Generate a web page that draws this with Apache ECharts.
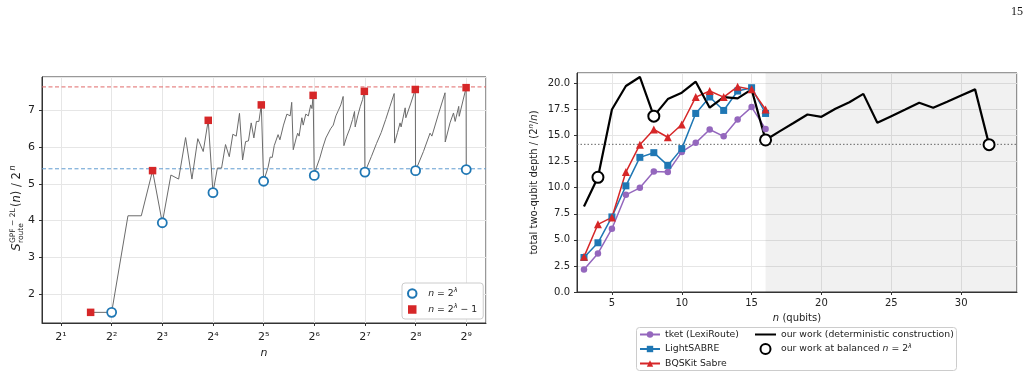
<!DOCTYPE html>
<html>
<head>
<meta charset="utf-8">
<script src="https://cdn.jsdelivr.net/npm/echarts@6/dist/echarts.min.js"></script>
<style>
html, body { margin: 0; padding: 0; background: #fff; }
#chart { width: 1029px; height: 378px; }
</style>
</head>
<body>
<div id="chart"></div>
<script>
// ---- left panel: S_route^{GPF-2L}(n) / 2^n on a log2 n axis ----
const gpfN = [3, 4, 5, 6, 7, 8, 9, 10, 11, 12, 13, 14, 15, 16, 17, 18, 19, 20, 21, 22, 23, 24, 25, 26, 27, 28, 29, 30, 31,
  32, 34, 35, 36, 37, 38, 39, 40, 42, 43, 44, 46, 47, 48, 50, 51, 52, 54, 55, 57, 59, 61, 62, 63,
  64, 66, 69, 72, 75, 77, 80, 83, 86, 89, 92, 95, 96, 100, 104, 108, 111, 112, 116, 120, 124, 127,
  128, 140, 150, 160, 170, 180, 191, 192, 200, 207, 210, 222, 224, 240, 255,
  256, 285, 312, 320, 350, 383, 384, 410, 430, 440, 462, 465, 511, 512];
const gpfVal = [1.50, 1.50, 4.13, 4.13, 5.36, 3.94, 5.24, 5.13, 6.26, 5.13, 6.23, 5.88, 6.73, 4.76, 5.43, 5.43, 6.07, 5.74, 6.35, 6.30, 6.92, 5.65, 6.15, 6.17, 6.66, 6.25, 6.70, 6.70, 7.15,
  5.07, 5.45, 5.73, 5.72, 6.04, 6.00, 6.34, 6.20, 6.60, 6.55, 6.90, 6.85, 7.22, 5.93, 6.25, 6.38, 6.30, 6.80, 6.60, 6.90, 6.85, 7.15, 7.05, 7.41,
  5.23, 5.45, 5.70, 6.00, 6.25, 6.20, 6.50, 6.60, 6.85, 7.00, 7.15, 7.38, 6.04, 6.30, 6.50, 6.75, 6.97, 6.55, 6.85, 7.10, 7.30, 7.52,
  5.32, 5.75, 6.10, 6.40, 6.75, 7.10, 7.46, 6.11, 6.40, 6.66, 6.55, 7.07, 6.80, 7.20, 7.57,
  5.36, 5.88, 6.38, 6.30, 6.90, 7.48, 6.14, 6.66, 6.93, 6.70, 7.11, 6.84, 7.62, 5.39];
const powN = [4, 8, 16, 32, 64, 128, 256, 512];
const powVal = [1.50, 3.94, 4.76, 5.07, 5.23, 5.32, 5.36, 5.39];
const powM1N = [3, 7, 15, 31, 63, 127, 255, 511];
const powM1Val = [1.50, 5.36, 6.73, 7.15, 7.41, 7.52, 7.57, 7.62];
const upperLimit = 7.64;
const lowerLimit = 5.41;
const log2TickLabels = ['2¹', '2²', '2³', '2⁴', '2⁵', '2⁶', '2⁷', '2⁸', '2⁹'];

// ---- right panel: total two-qubit depth / (2^n / n) ----
const qubits = [3, 4, 5, 6, 7, 8, 9, 10, 11, 12, 13, 14, 15, 16];
const tket = [2.16, 3.70, 6.07, 9.32, 9.99, 11.56, 11.50, 13.43, 14.30, 15.58, 14.93, 16.54, 17.73, 15.64];
const lightSabre = [3.31, 4.72, 7.20, 10.18, 12.91, 13.36, 12.14, 13.75, 17.12, 18.70, 17.41, 19.27, 19.59, 17.12];
const bqskit = [3.37, 6.49, 7.15, 11.50, 14.13, 15.58, 14.84, 16.06, 18.69, 19.27, 18.69, 19.69, 19.43, 17.50];
const oursN = [3, 4, 5, 6, 7, 8, 9, 10, 11, 12, 13, 14, 15, 16, 17, 18, 19, 20, 21, 22, 23, 24, 25, 26, 27, 28, 29, 30, 31, 32];
const ours = [8.19, 11.00, 17.50, 19.75, 20.62, 16.86, 18.50, 19.11, 20.17, 17.67, 18.69, 18.56, 19.43, 14.58,
  15.40, 16.20, 17.02, 16.80, 17.57, 18.20, 19.00, 16.22, 16.86, 17.50, 18.15, 17.66, 18.24, 18.85, 19.43, 14.13];
const oursBalancedN = [4, 8, 16, 32];
const oursBalanced = [11.00, 16.86, 14.58, 14.13];
const depthLimit = 14.16;
const shadeFrom = 16;

const FONT = 'DejaVu Sans';
const pair = (xs, ys) => xs.map((x, i) => [x, ys[i]]);
const chart = echarts.init(document.getElementById('chart'));

// axis ranges
const leftXMin = Math.pow(2, 0.625), leftXMax = Math.pow(2, 9.39);
const rightXMin = 2.5, rightXMax = 34;

const supRich = {
  i: { fontStyle: 'italic', fontSize: 9.3, fontFamily: FONT, lineHeight: 13 },
  s: { fontStyle: 'italic', fontSize: 6.5, fontFamily: FONT, verticalAlign: 'top', lineHeight: 4 }
};
const legendLabels = {
  pow: '{i|n} = 2{s|λ}',
  powm1: '{i|n} = 2{s|λ} − 1',
  oursBal: 'our work at balanced {i|n} = 2{s|λ}'
};

const axisCommon = {
  axisLine: { show: true, lineStyle: { color: '#333', width: 1 } },
  axisTick: { show: true, length: 3, lineStyle: { color: '#333' } },
  splitLine: { show: true, lineStyle: { color: '#e6e6e6', width: 1 } },
  axisLabel: { color: '#222', fontSize: 10, fontFamily: FONT, showMinLabel: false, showMaxLabel: false }
};

// horizontal reference line spanning a whole panel
const hLine = (axisIdx, x0, x1, value, color, dash) => ({
  type: 'line', xAxisIndex: axisIdx, yAxisIndex: axisIdx, silent: true, symbol: 'none', z: 2,
  data: [[x0, value], [x1, value]],
  lineStyle: { color: color, type: dash, width: 1 }
});

const option = {
  animation: false,
  backgroundColor: '#fff',
  textStyle: { fontFamily: FONT },
  grid: [
    { left: 42, top: 77, width: 444, height: 246, show: true, borderColor: '#333', borderWidth: 1, outerBoundsMode: 'none' },
    { left: 577, top: 73, width: 440, height: 219, show: true, borderColor: '#333', borderWidth: 1, outerBoundsMode: 'none' }
  ],
  xAxis: [
    {
      gridIndex: 0, type: 'log', logBase: 2, min: leftXMin, max: leftXMax, splitNumber: 9,
      ...axisCommon,
      axisLabel: {
        ...axisCommon.axisLabel, margin: 9, fontSize: 11,
        formatter: v => {
          const k = Math.round(Math.log2(v));
          return Math.abs(Math.log2(v) - k) < 1e-6 && k >= 1 ? log2TickLabels[k - 1] : '';
        }
      },
      name: 'n', nameLocation: 'middle', nameGap: 24,
      nameTextStyle: { fontStyle: 'italic', fontSize: 11, color: '#222' }
    },
    {
      gridIndex: 1, type: 'value', min: rightXMin, max: rightXMax,
      ...axisCommon,
      axisLabel: { ...axisCommon.axisLabel, margin: 6 },
      name: '{i|n} (qubits)', nameLocation: 'middle', nameGap: 21,
      nameTextStyle: { fontSize: 10, color: '#222', rich: { i: { fontStyle: 'italic', fontSize: 10 } } }
    }
  ],
  yAxis: [
    {
      gridIndex: 0, type: 'value', min: 1.21, max: 7.91,
      ...axisCommon,
      axisLabel: { ...axisCommon.axisLabel, margin: 7, fontSize: 11 }
    },
    {
      gridIndex: 1, type: 'value', min: 0, max: 21, interval: 2.5,
      ...axisCommon,
      axisLabel: { ...axisCommon.axisLabel, margin: 7, showMinLabel: true, formatter: v => v.toFixed(1) },
      name: 'total two-qubit depth / (2{s|n}/{i|n})', nameLocation: 'middle', nameRotate: 90, nameGap: 36,
      nameTextStyle: {
        fontSize: 10, color: '#222',
        rich: {
          i: { fontStyle: 'italic', fontSize: 10, lineHeight: 13 },
          s: { fontStyle: 'italic', fontSize: 7, verticalAlign: 'top', lineHeight: 4 }
        }
      }
    }
  ],
  legend: [
    {
      data: ['pow', { name: 'powm1', icon: 'path://M0,0H10V10H0Z' }], orient: 'vertical', left: 402, top: 283,
      padding: [4, 6, 3, 5], itemGap: 3, itemWidth: 16, itemHeight: 8.5,
      backgroundColor: '#fff', borderColor: '#ccc', borderWidth: 1, borderRadius: 3,
      formatter: n => legendLabels[n],
      textStyle: { fontSize: 9.3, color: '#222', lineHeight: 13, padding: [0, 0, 0, 3], rich: supRich }
    },
    {
      data: ['tket (LexiRoute)', 'LightSABRE', 'BQSKit Sabre'], orient: 'vertical', left: 639, top: 328,
      padding: 0, itemGap: 1.5, itemWidth: 20, itemHeight: 8,
      textStyle: { fontSize: 9.3, color: '#222', lineHeight: 13 }
    },
    {
      data: [{ name: 'ours', itemStyle: { opacity: 0 } }, 'oursBal'], orient: 'vertical', left: 754, top: 328,
      padding: 0, itemGap: 1.5, itemWidth: 21, itemHeight: 10,
      formatter: n => n === 'ours' ? 'our work (deterministic construction)' : legendLabels[n],
      textStyle: { fontSize: 9.3, color: '#222', lineHeight: 13, rich: supRich }
    }
  ],
  graphic: [
    // left y-axis title: S^{GPF-2L}_{route}(n) / 2^n
    {
      type: 'group', x: 17, y: 251, rotation: Math.PI / 2, children: [
        { type: 'text', x: 0, y: 0, style: { text: 'S', font: 'italic 12px DejaVu Sans', fill: '#222', verticalAlign: 'middle' } },
        { type: 'text', x: 8, y: -4, style: { text: 'GPF − 2L', font: '7.5px DejaVu Sans', fill: '#222', verticalAlign: 'middle' } },
        { type: 'text', x: 8, y: 4, style: { text: 'route', font: '7.5px DejaVu Sans', fill: '#222', verticalAlign: 'middle' } },
        { type: 'text', x: 44, y: 0, style: { text: '(', font: '11.5px DejaVu Sans', fill: '#222', verticalAlign: 'middle' } },
        { type: 'text', x: 48.5, y: 0, style: { text: 'n', font: 'italic 11.5px DejaVu Sans', fill: '#222', verticalAlign: 'middle' } },
        { type: 'text', x: 55.8, y: 0, style: { text: ') / 2', font: '11.5px DejaVu Sans', fill: '#222', verticalAlign: 'middle' } },
        { type: 'text', x: 80.5, y: -4.5, style: { text: 'n', font: 'italic 8px DejaVu Sans', fill: '#222', verticalAlign: 'middle' } }
      ]
    },
    // right legend frame
    {
      type: 'rect', shape: { x: 636.5, y: 327.5, width: 320, height: 43, r: 3 }, z: -1,
      style: { fill: '#fff', stroke: '#ccc', lineWidth: 1 }
    },
    // page number
    { type: 'text', x: 1011, y: 12, style: { text: '15', font: '12px Liberation Serif', fill: '#111', verticalAlign: 'middle' } }
  ],
  series: [
    hLine(0, leftXMin, leftXMax, upperLimit, '#e06a6a', [4, 2.5]),
    hLine(0, leftXMin, leftXMax, lowerLimit, '#5f9bd0', [4, 2.5]),
    {
      type: 'line', xAxisIndex: 0, yAxisIndex: 0, data: pair(gpfN, gpfVal), symbol: 'none', z: 3,
      lineStyle: { color: '#6b6b6b', width: 1 }
    },
    {
      name: 'pow', type: 'scatter', xAxisIndex: 0, yAxisIndex: 0, data: pair(powN, powVal), z: 4,
      symbol: 'circle', symbolSize: 9,
      itemStyle: { color: '#fff', borderColor: '#1f77b4', borderWidth: 1.8, opacity: 1 }
    },
    {
      name: 'powm1', type: 'scatter', xAxisIndex: 0, yAxisIndex: 0, data: pair(powM1N, powM1Val), z: 4,
      symbol: 'rect', symbolSize: 7.5, itemStyle: { color: '#d62728', opacity: 1 }
    },
    hLine(1, rightXMin, rightXMax, depthLimit, '#666', [1.5, 2]),
    {
      name: 'tket (LexiRoute)', type: 'line', xAxisIndex: 1, yAxisIndex: 1, data: pair(qubits, tket),
      symbol: 'circle', symbolSize: 6.5, color: '#9467bd', lineStyle: { width: 1.5 }, itemStyle: { color: '#9467bd' }
    },
    {
      name: 'LightSABRE', type: 'line', xAxisIndex: 1, yAxisIndex: 1, data: pair(qubits, lightSabre),
      symbol: 'rect', symbolSize: 7, color: '#1f77b4', lineStyle: { width: 1.5 }, itemStyle: { color: '#1f77b4' }
    },
    {
      name: 'BQSKit Sabre', type: 'line', xAxisIndex: 1, yAxisIndex: 1, data: pair(qubits, bqskit),
      symbol: 'triangle', symbolSize: 8, color: '#d62728', lineStyle: { width: 1.5 }, itemStyle: { color: '#d62728' }
    },
    {
      name: 'ours', type: 'line', xAxisIndex: 1, yAxisIndex: 1, data: pair(oursN, ours), symbol: 'none',
      color: '#000', lineStyle: { color: '#000', width: 2.2 }, z: 3,
      markArea: { silent: true, itemStyle: { color: 'rgba(0,0,0,0.055)' }, data: [[{ xAxis: shadeFrom }, { xAxis: rightXMax }]] }
    },
    {
      name: 'oursBal', type: 'scatter', xAxisIndex: 1, yAxisIndex: 1, data: pair(oursBalancedN, oursBalanced), z: 5,
      symbol: 'circle', symbolSize: 11, itemStyle: { color: '#fff', borderColor: '#000', borderWidth: 2, opacity: 1 }
    }
  ]
};
chart.setOption(option);
</script>
</body>
</html>
